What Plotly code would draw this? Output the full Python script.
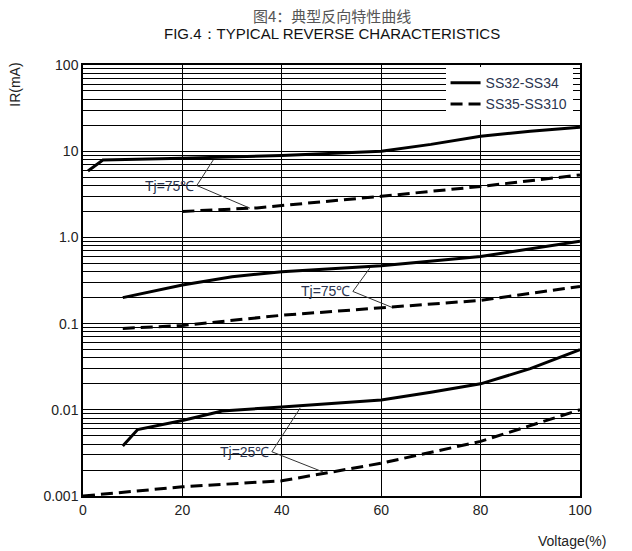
import math
import plotly.graph_objects as go

# ---- data ----
v_a75 = [1, 4, 20, 40, 60, 70, 80, 90, 100]
i_a75 = [5.9, 7.9, 8.3, 8.9, 10.0, 12.0, 14.9, 17.0, 19.0]
v_b75 = [20, 35, 60, 80, 100]
i_b75 = [2.0, 2.2, 3.0, 3.9, 5.3]
v_a75m = [8, 20, 30, 40, 60, 80, 100]
i_a75m = [0.20, 0.28, 0.35, 0.40, 0.47, 0.60, 0.90]
v_b75m = [8, 20, 40, 60, 80, 100]
i_b75m = [0.088, 0.095, 0.125, 0.154, 0.186, 0.27]
v_a25 = [8, 11, 20, 28, 40, 60, 70, 80, 90, 100]
i_a25 = [0.0038, 0.0059, 0.0075, 0.0097, 0.0108, 0.013, 0.016, 0.020, 0.030, 0.050]
v_b25 = [0, 20, 40, 50, 60, 80, 100]
i_b25 = [0.001, 0.00128, 0.0015, 0.0019, 0.0024, 0.0043, 0.010]

y_tickvals = [0.001, 0.01, 0.1, 1, 10, 100]
y_ticktext = ["0.001", "0.01", "0.1", "1.0", "10", "100"]
x_tickvals = [0, 20, 40, 60, 80, 100]
names = ["SS32-SS34", "SS35-SS310"]

FONT = "Liberation Sans, Arial, sans-serif"
fig = go.Figure()
solid = dict(color="black", width=3)
dashed = dict(color="black", width=3, dash="12px,6px")

fig.add_trace(go.Scatter(x=v_a75, y=i_a75, mode="lines", line=solid, name=names[0], legendgroup="a"))
fig.add_trace(go.Scatter(x=v_b75, y=i_b75, mode="lines", line=dashed, name=names[1], legendgroup="b"))
fig.add_trace(go.Scatter(x=v_a75m, y=i_a75m, mode="lines", line=solid, showlegend=False, legendgroup="a"))
fig.add_trace(go.Scatter(x=v_b75m, y=i_b75m, mode="lines", line=dashed, showlegend=False, legendgroup="b"))
fig.add_trace(go.Scatter(x=v_a25, y=i_a25, mode="lines", line=solid, showlegend=False, legendgroup="a"))
fig.add_trace(go.Scatter(x=v_b25, y=i_b25, mode="lines", line=dashed, showlegend=False, legendgroup="b"))

# labels with leader lines
labels = [
    ("Tj=75℃", 22.9, 4.0, [(26.2, 7.9), (33.6, 2.18)]),
    ("Tj=75℃", 54.3, 0.236, [(57.7, 0.44), (62.2, 0.154)]),
    ("Tj=25℃", 38.0, 0.00326, [(43.7, 0.0105), (48.3, 0.0019)]),
]
for text, lx, ly, targets in labels:
    fig.add_annotation(x=lx, y=math.log10(ly), xref="x", yref="y", text=text, showarrow=False,
                       xanchor="right", yanchor="middle", xshift=-1,
                       font=dict(family=FONT, size=14, color="#2b3550"))
    for tx, ty in targets:
        fig.add_shape(type="line", xref="x", yref="y", x0=lx, y0=ly, x1=tx, y1=ty,
                      line=dict(color="#333", width=1))

fig.add_annotation(x=0.5, y=1, xref="paper", yref="paper", text="图4：典型反向特性曲线",
                   showarrow=False, font=dict(family="Noto Sans CJK SC", size=15, color="#555"),
                   xanchor="center", yanchor="middle", yshift=50)
fig.add_annotation(x=0.5, y=1, xref="paper", yref="paper", text="FIG.4：TYPICAL REVERSE CHARACTERISTICS",
                   showarrow=False, font=dict(family=FONT, size=15, color="#111"),
                   xanchor="center", yanchor="middle", yshift=32)
fig.add_annotation(x=-0.137, y=0.954, xref="paper", yref="paper", text="IR(mA)", textangle=-90,
                   showarrow=False, font=dict(family=FONT, size=14, color="#222"),
                   xanchor="center", yanchor="middle")
fig.add_annotation(x=0.984, y=-0.104, xref="paper", yref="paper", text="Voltage(%)",
                   showarrow=False, font=dict(family=FONT, size=14, color="#222"),
                   xanchor="center", yanchor="middle")

fig.update_layout(
    width=632, height=551,
    margin=dict(l=83, r=52, t=65, b=55),
    paper_bgcolor="white", plot_bgcolor="white",
    font=dict(family=FONT, size=14, color="#222"),
    legend=dict(x=0.985, y=0.995, xanchor="right", yanchor="top", bgcolor="white",
                borderwidth=0, font=dict(family=FONT, size=14, color="#2b3550"),
                tracegroupgap=0, itemwidth=30),
    xaxis=dict(range=[0, 100], tickvals=x_tickvals, showgrid=True, gridcolor="black", gridwidth=1.4,
               showline=True, linecolor="black", linewidth=1.5, mirror=True, ticks="",
               zeroline=False, tickfont=dict(size=14)),
    yaxis=dict(type="log", range=[-3, 2], tickvals=y_tickvals, ticktext=y_ticktext,
               showgrid=True, gridcolor="black", gridwidth=1.4,
               minor=dict(dtick="D1", showgrid=True, gridcolor="black", gridwidth=1.4, ticks=""),
               showline=True, linecolor="black", linewidth=1.5, mirror=True, ticks="",
               tickfont=dict(size=14)),
)
fig.write_html("out.html", config={"displayModeBar": False},
               post_script="document.body.style.margin='0';")
